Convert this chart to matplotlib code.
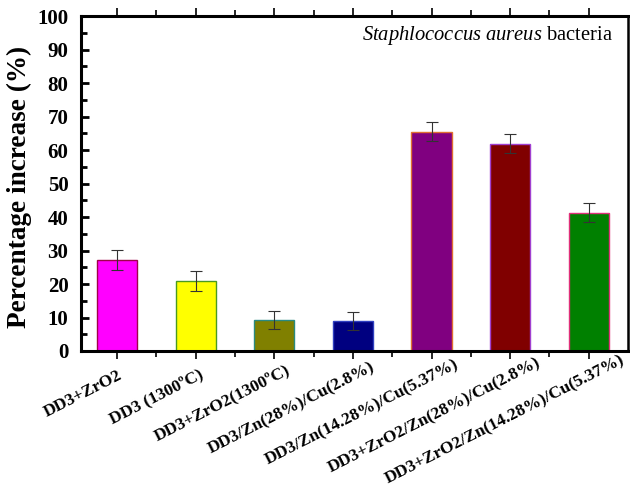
import matplotlib
matplotlib.use("Agg")
import matplotlib.pyplot as plt
from matplotlib.ticker import MultipleLocator, FixedLocator
import matplotlib.transforms as mtransforms
import numpy as np

categories = ["DD3+ZrO2", "DD3 (1300\u00baC)", "DD3+ZrO2(1300\u00baC)", "DD3/Zn(28%)/Cu(2.8%)",
              "DD3/Zn(14.28%)/Cu(5.37%)", "DD3+ZrO2/Zn(28%)/Cu(2.8%)",
              "DD3+ZrO2/Zn(14.28%)/Cu(5.37%)"]
values = [27.2, 20.8, 9.2, 9.0, 65.5, 61.9, 41.3]
errors = [2.9, 3.0, 2.7, 2.6, 2.9, 2.9, 2.9]
face_colors = ["#ff00ff", "#ffff00", "#808000", "#000080", "#800080", "#800000", "#008000"]
edge_colors = ["#a0004a", "#4a9a20", "#2a8a80", "#3040c0", "#e07030", "#a040d0", "#e0307a"]

plt.rcParams['font.family'] = ['Liberation Serif', 'DejaVu Serif']
plt.rcParams['mathtext.fontset'] = 'custom'
plt.rcParams['mathtext.it'] = 'Liberation Serif:italic'
plt.rcParams['mathtext.rm'] = 'Liberation Serif'

fig = plt.figure(figsize=(6.3, 4.86), dpi=100)
ax = fig.add_axes([81/630, 1-351/486, (628-81)/630, (351-16)/486])

x = np.arange(len(categories))
ax.bar(x, values, width=0.51, color=face_colors, edgecolor=edge_colors, linewidth=1.0, zorder=2)
ax.errorbar(x, values, yerr=errors, fmt='none', ecolor='#333333', elinewidth=0.8,
            capsize=4, capthick=0.8, zorder=3)

ax.set_xlim(-0.46, 6.5)
ax.set_ylim(0, 100)
ax.yaxis.set_major_locator(MultipleLocator(10))
ax.yaxis.set_minor_locator(MultipleLocator(5))
ax.set_xticks(x)
ax.set_xticklabels([])
ax.xaxis.set_minor_locator(FixedLocator(x[:-1] + 0.5))
for lab in ax.get_yticklabels():
    lab.set_fontweight('bold')
    lab.set_fontsize(15)

ax.tick_params(axis='y', which='major', direction='in', length=6, width=2, pad=9)
ax.tick_params(axis='y', which='minor', direction='in', length=4, width=2)
ax.tick_params(axis='x', which='major', direction='out', length=6, width=1.2, top=True)
ax.tick_params(axis='x', which='minor', direction='out', length=4, width=1.2, top=True)

for side in ['left', 'bottom', 'top']:
    ax.spines[side].set_linewidth(2.2)
ax.spines['right'].set_linewidth(1.8)

ax.set_ylabel("Percentage increase (%)", fontsize=19.6, fontweight='bold')
ax.yaxis.set_label_coords(-0.09, 0.49)

ax.text(0.9726, 0.943, r"$\mathit{Staphlococcus\ aureus}$ bacteria", transform=ax.transAxes,
        ha='right', va='center', fontsize=14.8)

# rotated category labels
angle = 27.0
fs = 12.5
renderer = fig.canvas.get_renderer()
base = ax.get_xaxis_transform()
th = np.deg2rad(angle)
for xi, name in zip(x, categories):
    tmp = fig.text(0, 0, name, fontsize=fs, fontweight='bold')
    L = tmp.get_window_extent(renderer).width
    tmp.remove()
    d = max(0.0, 0.19 * L - 16.0)
    dx = d * np.cos(th) / fig.dpi
    dy = d * np.sin(th) / fig.dpi
    tr = base + mtransforms.ScaledTranslation(dx, dy - 12 / 72, fig.dpi_scale_trans)
    ax.text(xi, 0, name, transform=tr, rotation=angle, rotation_mode='anchor',
            ha='right', va='top', fontsize=fs, fontweight='bold', clip_on=False)

fig.savefig("out.png", dpi=100)
